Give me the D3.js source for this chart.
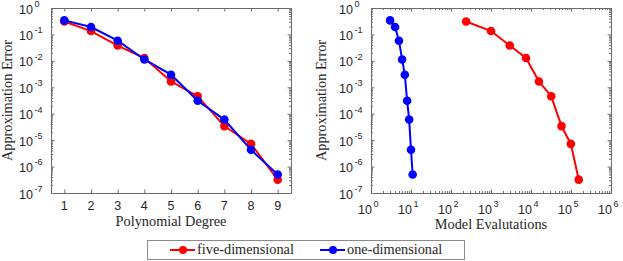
<!DOCTYPE html>
<html>
<head>
<meta charset="utf-8">
<script src="https://cdn.jsdelivr.net/npm/d3@7"></script>
<style>
  body { margin: 0; background: #fff; }
  .lab { font-family: 'Liberation Serif', 'Times New Roman', 'DejaVu Serif', serif; font-size: 14.3px; fill: #262626; }
  .tk { font-family: 'Liberation Sans', Arial, sans-serif; font-size: 12.5px; fill: #262626; }
</style>
</head>
<body>
<script>
const degrees = [1, 2, 3, 4, 5, 6, 7, 8, 9]
const fiveDimError = [0.31, 0.134, 0.038, 0.0128, 0.00166, 4.6e-4, 3.4e-5, 7.2e-6, 3.2e-7]
const oneDimError = [0.34, 0.19, 0.058, 0.0113, 0.003, 3.1e-4, 6e-5, 4.3e-6, 5e-7]
const fiveDimEvals = [239, 1000, 2950, 7500, 15800, 32000, 58000, 99000, 156000]
const oneDimEvals = [3, 4, 5, 6, 7, 8, 9, 10, 11]
const yExps = [0, -1, -2, -3, -4, -5, -6, -7]
const xExps = [0, 1, 2, 3, 4, 5, 6]
const seriesNames = ['five-dimensional', 'one-dimensional']
const colors = ['#ff0000', '#0000ff']

const width = 623
const height = 261
const plotTop = 8
const plotBottom = 193

const svg = d3.select('body').append('svg')
  .attr('width', width).attr('height', height)

const y = d3.scaleLog().domain([1e-7, 1]).range([plotBottom, plotTop])
const xL = d3.scaleLinear().domain([0.5, 9.5]).range([51, 291])
const xR = d3.scaleLog().domain([1, 1e6]).range([371, 611])

const minors = (lo, hi) => {
  const out = []
  for (let e = lo; e < hi; e++) for (let k = 2; k <= 9; k++) out.push(k * 10 ** e)
  return out
}

function frame(g, x, logX) {
  const [x0, x1] = x.range()
  const style = s => s.call(s => s.select('.domain').attr('stroke', '#6b6b6b'))
    .call(s => s.selectAll('.tick line').attr('stroke', '#6b6b6b'))
  const yMajor = yExps.map(e => 10 ** e)
  const yMinor = minors(-7, 0)
  g.append('g').attr('transform', `translate(${x0},0)`)
    .call(d3.axisLeft(y).tickValues(yMajor).tickSize(-3.5).tickSizeOuter(0).tickFormat(''))
    .call(style)
  g.append('g').attr('transform', `translate(${x0},0)`)
    .call(d3.axisLeft(y).tickValues(yMinor).tickSize(-2).tickSizeOuter(0).tickFormat(''))
    .call(style)
  g.append('g').attr('transform', `translate(${x1},0)`)
    .call(d3.axisRight(y).tickValues(yMajor).tickSize(-3.5).tickSizeOuter(0).tickFormat(''))
    .call(style)
  g.append('g').attr('transform', `translate(${x1},0)`)
    .call(d3.axisRight(y).tickValues(yMinor).tickSize(-2).tickSizeOuter(0).tickFormat(''))
    .call(style)
  const xMajor = logX ? xExps.map(e => 10 ** e) : degrees
  g.append('g').attr('transform', `translate(0,${plotBottom})`)
    .call(d3.axisBottom(x).tickValues(xMajor).tickSize(-3.5).tickSizeOuter(0).tickFormat(''))
    .call(style)
  g.append('g').attr('transform', `translate(0,${plotTop})`)
    .call(d3.axisTop(x).tickValues(xMajor).tickSize(-3.5).tickSizeOuter(0).tickFormat(''))
    .call(style)
  if (logX) {
    g.append('g').attr('transform', `translate(0,${plotBottom})`)
      .call(d3.axisBottom(x).tickValues(minors(0, 6)).tickSize(-2).tickSizeOuter(0).tickFormat(''))
      .call(style)
    g.append('g').attr('transform', `translate(0,${plotTop})`)
      .call(d3.axisTop(x).tickValues(minors(0, 6)).tickSize(-2).tickSizeOuter(0).tickFormat(''))
      .call(style)
  }

  // y tick labels: "10" with a raised exponent
  g.append('g').selectAll('text').data(yExps).join('text')
    .attr('class', 'tk')
    .attr('x', x0 - 18)
    .attr('y', d => y(10 ** d) + 5.5)
    .attr('text-anchor', 'end')
    .text('10')
  g.append('g').selectAll('text').data(yExps).join('text')
    .attr('class', 'tk')
    .style('font-size', '9px')
    .attr('x', x0 - 16.5)
    .attr('y', d => y(10 ** d) - 1.2)
    .text(d => d === 0 ? '0' : '-' + (-d))

  if (logX) {
    g.append('g').selectAll('text').data(xExps).join('text')
      .attr('class', 'tk')
      .attr('x', d => x(10 ** d) - 6)
      .attr('y', plotBottom + 21)
      .attr('text-anchor', 'middle')
      .text('10')
    g.append('g').selectAll('text').data(xExps).join('text')
      .attr('class', 'tk')
      .style('font-size', '9px')
      .attr('x', d => x(10 ** d) + 2.5)
      .attr('y', plotBottom + 14)
      .text(d => d)
  } else {
    g.append('g').selectAll('text').data(degrees).join('text')
      .attr('class', 'tk')
      .attr('x', d => x(d))
      .attr('y', plotBottom + 17)
      .attr('text-anchor', 'middle')
      .text(d => d)
  }
}

function series(g, x, xs, ys, color) {
  const pts = xs.map((v, i) => [v, ys[i]])
  g.append('path').datum(pts)
    .attr('fill', 'none').attr('stroke', color).attr('stroke-width', 2)
    .attr('d', d3.line(d => x(d[0]), d => y(d[1])))
  g.append('g').selectAll('circle').data(pts).join('circle')
    .attr('cx', d => x(d[0])).attr('cy', d => y(d[1]))
    .attr('r', 4.3).attr('fill', color)
}

// left panel
const gl = svg.append('g')
frame(gl, xL, false)
series(gl, xL, degrees, fiveDimError, colors[0])
series(gl, xL, degrees, oneDimError, colors[1])
gl.append('text').attr('class', 'lab')
  .attr('transform', `translate(11.5,${(plotTop + plotBottom) / 2}) rotate(-90)`)
  .attr('text-anchor', 'middle').text('Approximation Error')
gl.append('text').attr('class', 'lab')
  .attr('x', (51 + 291) / 2).attr('y', 226)
  .attr('text-anchor', 'middle').text('Polynomial Degree')

// right panel
const gr = svg.append('g')
frame(gr, xR, true)
series(gr, xR, fiveDimEvals, fiveDimError, colors[0])
series(gr, xR, oneDimEvals, oneDimError, colors[1])
gr.append('text').attr('class', 'lab')
  .attr('transform', `translate(326,${(plotTop + plotBottom) / 2}) rotate(-90)`)
  .attr('text-anchor', 'middle').text('Approximation Error')
gr.append('text').attr('class', 'lab')
  .attr('x', (371 + 611) / 2).attr('y', 229)
  .attr('text-anchor', 'middle').text('Model Evalutations')

// legend
const lg = svg.append('g')
lg.append('rect').attr('x', 147.5).attr('y', 240.5).attr('width', 317).attr('height', 19)
  .attr('fill', '#fff').attr('stroke', '#8a8a8a')
const legendX = [170, 320]
seriesNames.forEach((name, i) => {
  const lx = legendX[i]
  lg.append('line').attr('x1', lx).attr('x2', lx + 25).attr('y1', 250).attr('y2', 250)
    .attr('stroke', colors[i]).attr('stroke-width', 2)
  lg.append('circle').attr('cx', lx + 13).attr('cy', 250).attr('r', 4).attr('fill', colors[i])
  lg.append('text').attr('class', 'lab').attr('x', lx + 27).attr('y', 254).text(name)
})
</script>
</body>
</html>
